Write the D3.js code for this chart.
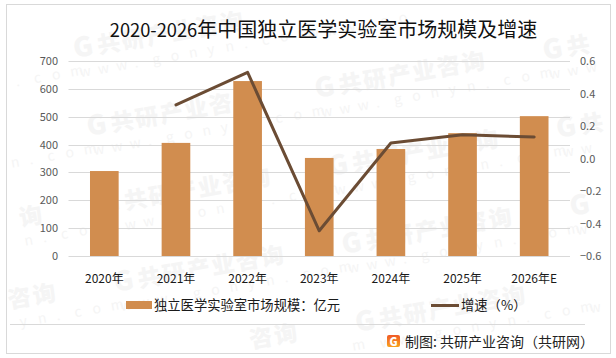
<!DOCTYPE html>
<html>
<head>
<meta charset="utf-8">
<script src="https://cdn.jsdelivr.net/npm/d3@7"></script>
<style>
html, body { margin: 0; padding: 0; background: #fff; }
svg { display: block; }
text { font-family: "Noto Sans CJK SC", "Noto Sans", sans-serif; }
</style>
</head>
<body>
<div id="canvas"></div>
<script>
"use strict";

/* -------------------- Data -------------------- */

let categories = ["2020年", "2021年", "2022年", "2023年", "2024年", "2025年", "2026年E"];
let marketSize = [305, 406, 628, 352, 384, 441, 502];
let growthRate = [null, 0.33, 0.53, -0.445, 0.095, 0.146, 0.132];
let leftTicks = [0, 100, 200, 300, 400, 500, 600, 700];
let rightTicks = [-0.6, -0.4, -0.2, 0, 0.2, 0.4, 0.6];

/* -------------------- Configuration -------------------- */

let svgWidth = 616;
let svgHeight = 358;
let plot = { left: 68.5, right: 570, top: 61, bottom: 256 };
let barColor = "#d18d4f";
let lineColor = "#6b4c34";
let gridColor = "#d9d9d9";

let svg = d3.select("#canvas")
    .append("svg")
    .attr("width", svgWidth)
    .attr("height", svgHeight);

svg.append("rect")
    .attr("x", 6.5)
    .attr("y", 4.5)
    .attr("width", 604)
    .attr("height", 349)
    .attr("fill", "#fff")
    .attr("stroke", gridColor)
    .attr("stroke-width", 1);

/* -------------------- Watermark -------------------- */

/* one text per glyph, so tiles at the frame edge just lose the glyphs that do not fit */
let watermark = svg.append("g").attr("fill", "#f5f5f5");
let wmAngle = -10 * Math.PI / 180;

function placeGlyphs(originX, originY, chars, startX, offsetY, step, size, weight) {
    chars.split("").forEach(function (ch, k) {
        let along = startX + k * step;
        let gx = originX + along * Math.cos(wmAngle) - offsetY * Math.sin(wmAngle);
        let gy = originY + along * Math.sin(wmAngle) + offsetY * Math.cos(wmAngle);
        if (gx < 8 || gx + size > 608 || gy - size < 7 || gy > 351) {
            return;
        }
        watermark.append("text")
            .attr("transform", "translate(" + gx + "," + gy + ") rotate(-10)")
            .attr("font-size", size)
            .attr("font-weight", weight)
            .text(ch);
    });
}

for (let i = -1; i <= 3; i++) {
    for (let j = -1; j <= 4; j++) {
        let wx = 75 + i * 228 + j * 13.5;
        let wy = 58 - i * 38 + j * 78;
        placeGlyphs(wx, wy, "G", 0, 0, 0, 27, 900);
        placeGlyphs(wx, wy, "共研产业咨询", 24, 0, 25, 23, 900);
        placeGlyphs(wx, wy, "www.gonyn.com", 2, 20, 18.5, 14, 400);
    }
}

/* -------------------- Scales -------------------- */

let xScale = d3.scaleBand()
    .domain(categories)
    .range([plot.left, plot.right])
    .paddingInner(0.6)
    .paddingOuter(0.3);

let yLeft = d3.scaleLinear()
    .domain([0, 700])
    .range([plot.bottom, plot.top]);

let yRight = d3.scaleLinear()
    .domain([-0.6, 0.6])
    .range([plot.bottom, plot.top]);

/* -------------------- Gridlines -------------------- */

svg.selectAll("line.grid")
    .data(leftTicks)
    .join("line")
    .attr("class", "grid")
    .attr("x1", plot.left)
    .attr("x2", plot.right)
    .attr("y1", function (d) { return Math.round(yLeft(d)) + 0.5; })
    .attr("y2", function (d) { return Math.round(yLeft(d)) + 0.5; })
    .attr("stroke", gridColor)
    .attr("stroke-width", 1);

/* -------------------- Bars -------------------- */

svg.selectAll("rect.bar")
    .data(categories)
    .join("rect")
    .attr("class", "bar")
    .attr("x", function (d) { return xScale(d); })
    .attr("y", function (d, i) { return yLeft(marketSize[i]); })
    .attr("width", xScale.bandwidth())
    .attr("height", function (d, i) { return plot.bottom - yLeft(marketSize[i]); })
    .attr("fill", barColor);

/* -------------------- Growth line -------------------- */

let growthLine = d3.line()
    .defined(function (d) { return d !== null; })
    .x(function (d, i) { return xScale(categories[i]) + xScale.bandwidth() / 2; })
    .y(function (d) { return yRight(d); });

svg.append("path")
    .attr("d", growthLine(growthRate))
    .attr("fill", "none")
    .attr("stroke", lineColor)
    .attr("stroke-width", 3)
    .attr("stroke-linecap", "round")
    .attr("stroke-linejoin", "round");

/* -------------------- Axes -------------------- */

let leftAxis = svg.append("g")
    .attr("transform", "translate(58,0)")
    .call(d3.axisLeft(yLeft).tickValues(leftTicks).tickSize(0).tickPadding(0));

let rightAxis = svg.append("g")
    .attr("transform", "translate(580,0)")
    .call(d3.axisRight(yRight).tickValues(rightTicks).tickSize(0).tickPadding(0)
        .tickFormat(d3.format(".1f")));

let bottomAxis = svg.append("g")
    .attr("transform", "translate(0,274)")
    .call(d3.axisBottom(xScale).tickSize(0).tickPadding(0));

leftAxis.select(".domain").remove();
rightAxis.select(".domain").remove();
bottomAxis.select(".domain").remove();

svg.selectAll("g.tick text")
    .attr("font-family", "\"Liberation Sans\", \"Noto Sans CJK SC\", sans-serif")
    .attr("font-size", 11)
    .attr("fill", "#595959");

bottomAxis.selectAll("text")
    .attr("font-family", "\"Noto Sans CJK SC\", \"Noto Sans\", sans-serif")
    .attr("font-size", 12)
    .attr("fill", "#1a1a1a");

/* -------------------- Title -------------------- */

let title = svg.append("text")
    .attr("x", 323.5)
    .attr("y", 37)
    .attr("text-anchor", "middle")
    .attr("font-size", 20)
    .attr("fill", "#111");

title.append("tspan")
    .attr("font-size", 18.3)
    .text("2020-2026");

title.append("tspan")
    .text("年中国独立医学实验室市场规模及增速");

/* -------------------- Legend -------------------- */

svg.append("rect")
    .attr("x", 126)
    .attr("y", 301)
    .attr("width", 26)
    .attr("height", 8)
    .attr("fill", barColor);

svg.append("text")
    .attr("x", 154)
    .attr("y", 310)
    .attr("font-size", 13.3)
    .attr("fill", "#1a1a1a")
    .text("独立医学实验室市场规模：亿元");

svg.append("line")
    .attr("x1", 431)
    .attr("x2", 459)
    .attr("y1", 305.5)
    .attr("y2", 305.5)
    .attr("stroke", lineColor)
    .attr("stroke-width", 3);

svg.append("text")
    .attr("x", 461)
    .attr("y", 310)
    .attr("font-size", 13.3)
    .attr("fill", "#1a1a1a")
    .text("增速（%）");

/* -------------------- Source footer -------------------- */

svg.append("line")
    .attr("x1", 10)
    .attr("x2", 585)
    .attr("y1", 324.5)
    .attr("y2", 324.5)
    .attr("stroke", gridColor);

let defs = svg.append("defs");
let logoGradient = defs.append("linearGradient")
    .attr("id", "logoFill")
    .attr("x1", 0).attr("y1", 0)
    .attr("x2", 0).attr("y2", 1);
logoGradient.append("stop").attr("offset", "0%").attr("stop-color", "#f05a28");
logoGradient.append("stop").attr("offset", "100%").attr("stop-color", "#f9a11b");

let logo = svg.append("g").attr("transform", "translate(387,335)");

logo.append("rect")
    .attr("width", 13)
    .attr("height", 12)
    .attr("rx", 2)
    .attr("fill", "url(#logoFill)");

logo.append("text")
    .attr("x", 6.5)
    .attr("y", 10.5)
    .attr("text-anchor", "middle")
    .attr("font-size", 11)
    .attr("font-weight", 900)
    .attr("fill", "#fff")
    .text("G");

svg.append("text")
    .attr("x", 405)
    .attr("y", 347)
    .attr("font-size", 14)
    .attr("fill", "#222")
    .text("制图: 共研产业咨询（共研网）");
</script>
</body>
</html>
